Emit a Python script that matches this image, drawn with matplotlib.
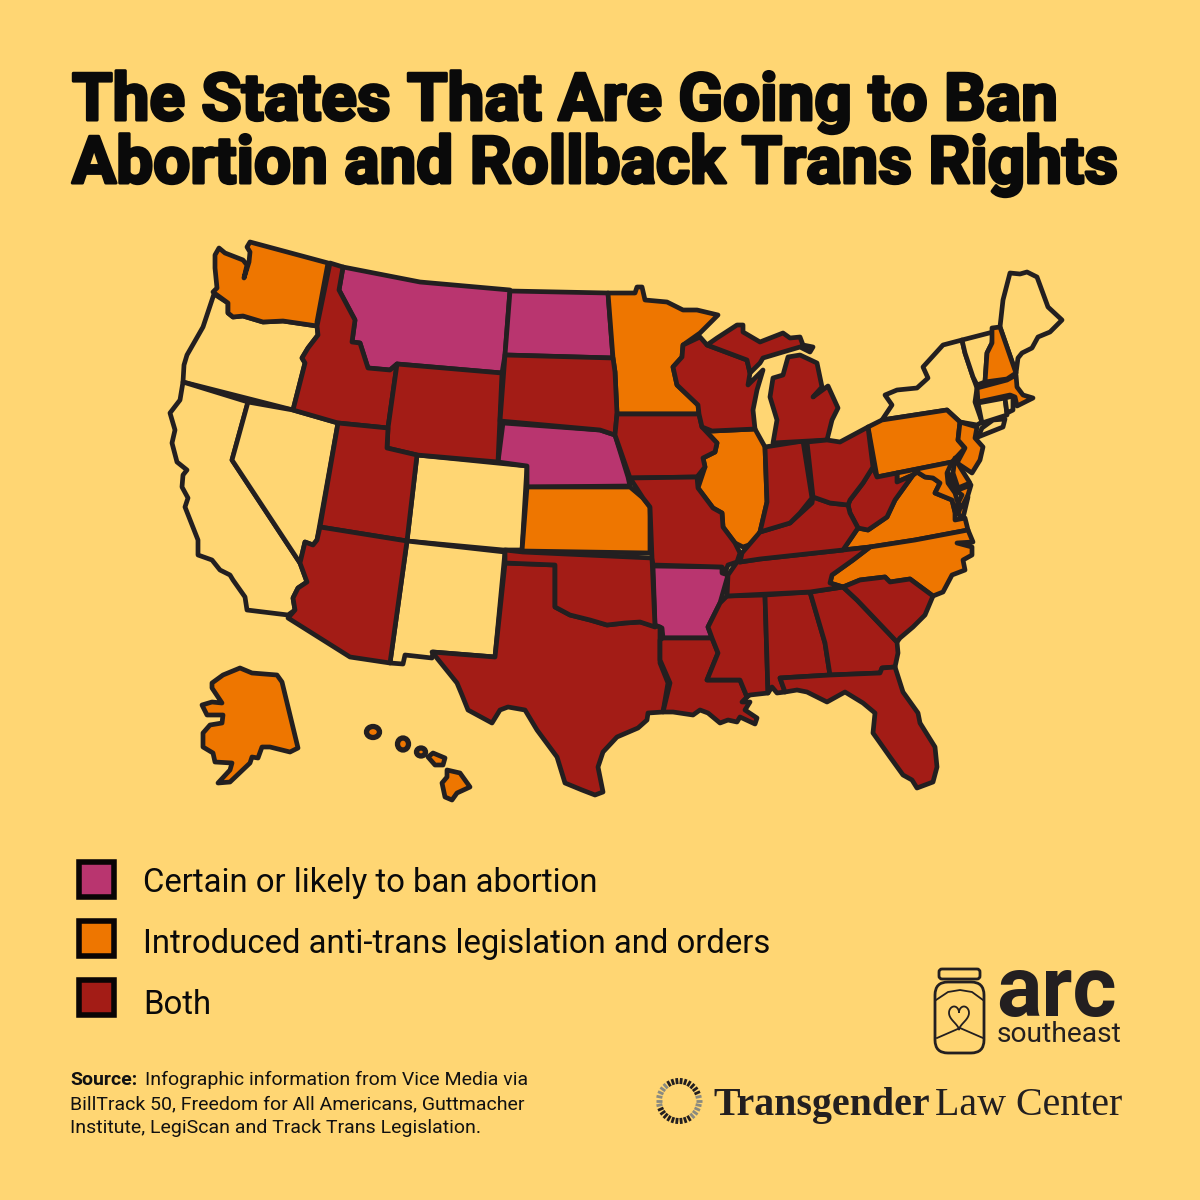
"""
States map: abortion bans and anti-trans legislation
"""

import numpy as np
import matplotlib
matplotlib.use('Agg')

import matplotlib.pyplot as plt
import matplotlib.patheffects as pe
from matplotlib.patches import Polygon, Rectangle, FancyBboxPatch, Ellipse

BG = '#FFD673'
INK = '#231F20'
MAGENTA = '#B9356F'
ORANGE = '#EE7600'
RED = '#A31C16'

TITLE_LINES = ['The States That Are Going to Ban', 'Abortion and Rollback Trans Rights']
LEGEND_LABELS = ['Certain or likely to ban abortion',
                 'Introduced anti-trans legislation and orders',
                 'Both']
LEGEND_COLORS = [MAGENTA, ORANGE, RED]
SOURCE_LINES = ['Infographic information from Vice Media via',
                'BillTrack 50, Freedom for All Americans, Guttmacher',
                'Institute, LegiScan and Track Trans Legislation.']

# state outlines (x, y in image pixels)
WA = [(215, 255), (219, 248), (225, 253), (243, 260), (247, 265), (244, 278), (249, 262), (250, 252), (247, 247),
      (250, 242), (328, 263), (317, 322), (317, 326), (283, 321), (263, 322), (243, 316), (233, 317), (228, 313),
      (228, 303), (217, 295), (213, 292), (217, 288), (215, 268)]
OR = [(214, 294), (228, 303), (228, 313), (233, 317), (243, 316), (263, 322), (283, 321), (317, 326), (318, 335),
      (308, 348), (302, 358), (305, 363), (293, 410), (183, 382), (184, 365), (187, 355), (203, 327)]
CA = [(183, 382), (248, 402), (232, 460), (300, 563), (307, 582), (298, 588), (293, 598), (295, 610), (288, 615),
      (247, 610), (245, 597), (233, 580), (230, 575), (220, 570), (212, 560), (198, 555), (198, 540), (185, 507),
      (188, 498), (182, 487), (183, 475), (187, 470), (177, 462), (172, 443), (175, 430), (170, 413), (180, 400)]
NV = [(248, 402), (293, 410), (338, 423), (317, 540), (313, 545), (305, 542), (300, 563), (232, 460)]
ID = [(330, 263), (343, 267), (339, 290), (355, 320), (352, 342), (360, 343), (368, 368), (390, 370), (397, 364),
      (388, 428), (338, 423), (293, 410), (305, 363), (302, 358), (308, 348), (318, 335), (317, 326)]
MT = [(343, 267), (420, 282), (510, 290), (505, 355), (502, 373), (397, 364), (390, 370), (368, 368), (360, 343),
      (352, 342), (355, 320), (339, 290)]
WY = [(397, 364), (502, 373), (498, 462), (417, 455), (387, 448), (388, 428)]
UT = [(338, 423), (388, 428), (387, 448), (417, 455), (407, 541), (320, 527)]
CO = [(417, 455), (527, 466), (522, 550), (503, 550), (407, 541)]
NM = [(407, 541), (505, 552), (495, 657), (433, 652), (432, 658), (405, 655), (403, 664), (390, 663)]
AZ = [(320, 527), (407, 541), (390, 663), (350, 657), (288, 618), (295, 610), (293, 598), (298, 588), (307, 582),
      (300, 563), (305, 542), (313, 545), (317, 540)]
TX = [(505, 563), (555, 565), (555, 607), (570, 615), (590, 620), (607, 625), (625, 623), (640, 622), (660, 627),
      (660, 663), (668, 683), (663, 712), (648, 713), (647, 720), (638, 728), (617, 737), (603, 752), (598, 767),
      (603, 792), (595, 795), (582, 790), (565, 783), (557, 757), (537, 730), (525, 710), (508, 707), (500, 710),
      (492, 723), (468, 710), (462, 695), (457, 683), (432, 652), (495, 657)]
OK = [(505, 550), (523, 552), (652, 558), (653, 580), (655, 627), (640, 622), (625, 623), (607, 625), (590, 620),
      (570, 615), (555, 607), (555, 565), (505, 563)]
KS = [(527, 487), (630, 487), (643, 498), (650, 507), (650, 553), (522, 551)]
NE = [(503, 423), (600, 430), (615, 435), (628, 477), (630, 486), (527, 487), (527, 466), (498, 462)]
SD = [(505, 355), (613, 358), (615, 372), (617, 414), (615, 435), (600, 430), (500, 421)]
ND = [(510, 291), (608, 293), (613, 358), (505, 355)]
MN = [(608, 293), (635, 293), (637, 287), (642, 287), (645, 300), (667, 302), (683, 310), (697, 310), (718, 315),
      (700, 333), (683, 345), (682, 357), (673, 367), (677, 385), (698, 405), (699, 414), (617, 414), (615, 372),
      (613, 358)]
IA = [(617, 414), (699, 414), (702, 427), (717, 443), (715, 452), (703, 458), (705, 467), (697, 477), (630, 478),
      (615, 435)]
MO = [(630, 478), (697, 477), (698, 488), (713, 508), (722, 513), (723, 527), (735, 543), (740, 553), (737, 562),
      (728, 565), (725, 573), (722, 567), (653, 565), (652, 558), (650, 507), (643, 498)]
AR = [(653, 566), (722, 567), (722, 573), (728, 575), (720, 603), (708, 627), (712, 638), (663, 638), (662, 628),
      (655, 625)]
LA = [(663, 638), (712, 638), (718, 653), (707, 680), (740, 680), (747, 697), (742, 702), (750, 702), (745, 710),
      (757, 718), (755, 724), (740, 717), (737, 722), (728, 720), (720, 723), (708, 713), (700, 710), (693, 715),
      (673, 712), (663, 712), (670, 683), (660, 660), (660, 640)]
MS = [(727, 596), (765, 595), (768, 693), (750, 695), (747, 697), (740, 680), (707, 680), (718, 653), (712, 638),
      (708, 627), (720, 603)]
AL = [(765, 595), (810, 592), (825, 643), (830, 675), (780, 678), (785, 692), (777, 693), (772, 687), (768, 693)]
GA = [(810, 592), (843, 587), (857, 600), (897, 642), (898, 653), (895, 667), (882, 668), (880, 673), (830, 675),
      (825, 643)]
FL = [(780, 678), (830, 675), (880, 673), (882, 668), (895, 667), (903, 692), (918, 713), (920, 723), (935, 747),
      (937, 767), (933, 782), (917, 788), (912, 780), (903, 775), (890, 757), (878, 740), (873, 733), (875, 713),
      (863, 703), (845, 692), (827, 702), (807, 692), (797, 690), (785, 692)]
SC = [(843, 587), (860, 580), (885, 577), (890, 582), (910, 579), (933, 596), (925, 615), (913, 627), (900, 638),
      (897, 642), (857, 600)]
NC = [(870, 547), (915, 540), (968, 530), (973, 542), (957, 543), (972, 547), (972, 555), (963, 560), (965, 570),
      (952, 575), (943, 592), (933, 596), (910, 579), (890, 582), (885, 577), (860, 580), (843, 587), (830, 583),
      (832, 575), (853, 560)]
TN = [(740, 562), (760, 559), (843, 550), (870, 547), (853, 560), (832, 575), (830, 583), (843, 587), (810, 592),
      (727, 596), (728, 575), (737, 562)]
VA = [(843, 550), (858, 528), (868, 530), (887, 517), (895, 500), (913, 475), (917, 472), (925, 477), (933, 478),
      (940, 483), (935, 493), (952, 500), (955, 512), (955, 520), (965, 518), (968, 530), (915, 540), (870, 547)]
VA_SHORE = [(968, 497), (963, 518), (958, 514), (962, 503)]
WV = [(873, 467), (877, 477), (897, 473), (897, 482), (913, 475), (895, 500), (887, 517), (868, 530), (858, 528),
      (850, 513), (848, 505), (850, 500), (863, 483)]
KY = [(742, 553), (760, 532), (790, 523), (812, 503), (813, 497), (830, 503), (848, 505), (850, 513), (858, 528),
      (843, 550), (760, 559), (740, 562)]
IN = [(765, 447), (803, 441), (812, 498), (800, 513), (790, 523), (760, 532), (767, 502)]
IL = [(712, 431), (755, 429), (765, 447), (767, 502), (760, 532), (755, 543), (743, 547), (735, 543), (723, 527),
      (722, 513), (713, 508), (698, 488), (705, 467), (703, 458), (715, 452), (717, 443), (702, 427)]
WI = [(683, 345), (700, 337), (707, 345), (747, 360), (750, 373), (748, 385), (763, 370), (757, 390), (753, 410),
      (755, 429), (712, 431), (702, 427), (699, 414), (698, 405), (677, 385), (673, 367), (682, 357)]
MI_UP = [(707, 345), (717, 338), (737, 325), (743, 325), (743, 332), (760, 342), (783, 333), (790, 338), (800, 337),
         (803, 345), (813, 347), (810, 352), (800, 347), (783, 352), (763, 358), (760, 363), (750, 373), (747, 360)]
MI_LP = [(788, 357), (800, 355), (817, 363), (822, 387), (813, 397), (828, 386), (838, 408), (832, 420), (827, 440),
         (773, 443), (777, 420), (770, 397), (773, 378), (783, 375)]
OH = [(807, 442), (827, 440), (840, 442), (868, 427), (873, 467), (863, 483), (850, 500), (848, 505), (830, 503),
      (813, 497)]
PA = [(868, 427), (882, 420), (947, 410), (960, 422), (958, 440), (965, 448), (952, 462), (877, 477)]
NJ = [(960, 422), (977, 427), (975, 438), (983, 447), (980, 460), (972, 473), (957, 463), (965, 448), (958, 440)]
NY = [(882, 420), (892, 405), (885, 395), (897, 390), (917, 388), (928, 378), (923, 367), (943, 345), (962, 340),
      (965, 353), (973, 377), (977, 388), (975, 402), (982, 422), (977, 425), (960, 422), (947, 410)]
LONG_ISLAND = [(978, 437), (1003, 427), (1005, 419), (993, 420), (982, 428)]
VT = [(962, 340), (993, 332), (992, 343), (987, 353), (985, 382), (977, 385), (973, 377), (965, 353)]
NH = [(992, 328), (1000, 327), (1016, 373), (1007, 379), (985, 382), (987, 353), (992, 343)]
ME = [(1000, 327), (1003, 300), (1010, 273), (1020, 274), (1027, 272), (1037, 277), (1048, 307), (1062, 320),
      (1050, 332), (1038, 337), (1032, 348), (1022, 353), (1018, 358), (1016, 373)]
MA = [(977, 388), (1007, 380), (1016, 375), (1017, 387), (1023, 395), (1033, 398), (1023, 403), (1017, 406),
      (1015, 397), (1010, 395), (978, 402)]
CT = [(978, 403), (1005, 398), (1007, 415), (982, 423)]
RI = [(1005, 398), (1013, 396), (1013, 410), (1007, 413)]
MD = [(897, 473), (952, 462), (947, 473), (948, 483), (955, 493), (958, 503), (955, 512), (952, 500), (935, 493),
      (940, 483), (933, 478), (925, 477), (917, 472), (913, 475), (897, 482)]
MD_SHORE = [(948, 473), (958, 490), (971, 485), (968, 495), (962, 507), (958, 503), (962, 495), (955, 490)]
DE = [(955, 458), (960, 467), (970, 483), (958, 488), (953, 473)]
AK = [(240, 668), (252, 673), (277, 675), (282, 682), (298, 748), (290, 752), (270, 747), (262, 747), (258, 758),
      (252, 757), (250, 763), (230, 782), (218, 783), (230, 770), (232, 763), (215, 762), (213, 753), (203, 747),
      (203, 733), (210, 725), (222, 723), (223, 715), (207, 715), (202, 705), (212, 702), (222, 703), (212, 688),
      (212, 683), (223, 675)]
HI_BIG = [(447, 770), (460, 773), (470, 787), (457, 793), (452, 800), (445, 797), (442, 783), (447, 777)]
HI_MAUI = [(428, 757), (433, 753), (445, 758), (443, 765), (435, 765)]

NEITHER_STATES = [OR, CA, NV, CO, NM, NY, LONG_ISLAND, VT, ME, CT, RI]
ABORTION_STATES = [MT, ND, NE, AR]
TRANS_STATES = [WA, KS, MN, IL, PA, NJ, VA, VA_SHORE, NC, NH, MA, MD, MD_SHORE, DE, AK, HI_BIG, HI_MAUI]
BOTH_STATES = [ID, WY, UT, AZ, TX, OK, SD, IA, MO, LA, MS, AL, GA, FL, SC, TN, WV, KY, IN, WI, MI_UP, MI_LP, OH]

# small Hawaiian islands: x, y, width, height
HI_SMALL = [(373, 732, 13, 11), (403, 744, 11, 12), (421, 752, 9, 8)]

plt.rcParams['font.family'] = ['Roboto', 'DejaVu Sans']

fig = plt.figure(figsize=(12, 12), dpi=100, facecolor=BG)
ax = fig.add_axes([0, 0, 1, 1])
ax.set_xlim(0, 1200)
ax.set_ylim(1200, 0)
ax.axis('off')

# Title, thickened with a stroke because the font has nothing this heavy
for line, base in zip(TITLE_LINES, [120, 183]):
    ax.text(72, base, line, fontsize=47.3, fontweight='bold', color='#0A0A0A', va='baseline',
            path_effects=[pe.withStroke(linewidth=2.2, foreground='#0A0A0A')])

# Map
for group, color in [(NEITHER_STATES, BG), (ABORTION_STATES, MAGENTA), (TRANS_STATES, ORANGE), (BOTH_STATES, RED)]:
    for outline in group:
        ax.add_patch(Polygon(outline, closed=True, facecolor=color, edgecolor=INK, linewidth=3.4, joinstyle='round'))

for x, y, w, h in HI_SMALL:
    ax.add_patch(Ellipse((x, y), w, h, facecolor=ORANGE, edgecolor=INK, linewidth=3.8))

# Legend
for i, (label, color) in enumerate(zip(LEGEND_LABELS, LEGEND_COLORS)):
    ax.add_patch(Rectangle((78.8, 861.8 + i * 59), 35.5, 35.5, facecolor=color, edgecolor='#0A0505', linewidth=4))
    ax.text(143, 892 + i * 61, label, fontsize=23.7, color='#0A0A0A', va='baseline')

# Source
ax.text(70, 1085, 'Source:', fontsize=14, fontweight='bold', color='#111111', va='baseline')
ax.text(145, 1085, SOURCE_LINES[0], fontsize=14, color='#111111', va='baseline')
ax.text(70, 1109, SOURCE_LINES[1], fontsize=14, color='#111111', va='baseline')
ax.text(70, 1133, SOURCE_LINES[2], fontsize=14, color='#111111', va='baseline')

# arc southeast logo
ax.add_patch(FancyBboxPatch((939, 969), 41, 10, boxstyle='round,pad=0,rounding_size=3',
                            facecolor='none', edgecolor=INK, linewidth=2))
ax.add_patch(FancyBboxPatch((935, 982), 49, 71, boxstyle='round,pad=0,rounding_size=13',
                            facecolor='none', edgecolor=INK, linewidth=2))
ax.plot([936, 948, 960, 972, 983], [1000, 992, 990, 992, 1000], color=INK, lw=1.3)
ax.plot([937, 960, 983], [1038, 1028, 1038], color=INK, lw=1.3)
t = np.linspace(0, 2 * np.pi, 80)
ax.plot(959 + 10 * np.sin(t) ** 3, 1016 - 0.8 * (13 * np.cos(t) - 5 * np.cos(2 * t) - 2 * np.cos(3 * t) - np.cos(4 * t)),
        color=INK, lw=1.3)
ax.text(996, 1016, 'arc', fontsize=61, fontweight='bold', color=INK, va='baseline')
ax.plot([1005, 1030, 1050, 1083], [1015, 995, 983, 973], color=BG, lw=1.6)
ax.plot([1080, 1100, 1119], [979, 976, 982], color=BG, lw=1.6)
ax.text(997, 1042, 'southeast', fontsize=20.3, color=INK, va='baseline')

# Transgender Law Center logo
for a in np.linspace(0, 2 * np.pi, 30, endpoint=False):
    shade = '#8A8A80' if np.sin(a * 2 + 1) > 0.4 else INK
    ax.plot([679 + 17 * np.cos(a), 679 + 23 * np.cos(a)], [1101 + 17 * np.sin(a), 1101 + 23 * np.sin(a)],
            color=shade, lw=2, solid_capstyle='butt')
ax.text(713, 1115, 'Transgender', fontsize=28.7, fontweight='bold', family=['Liberation Serif'], color=INK, va='baseline')
ax.text(935, 1115, 'Law Center', fontsize=28.8, family=['Liberation Serif'], color=INK, va='baseline')

fig.savefig('out.png', dpi=100, facecolor=BG)
